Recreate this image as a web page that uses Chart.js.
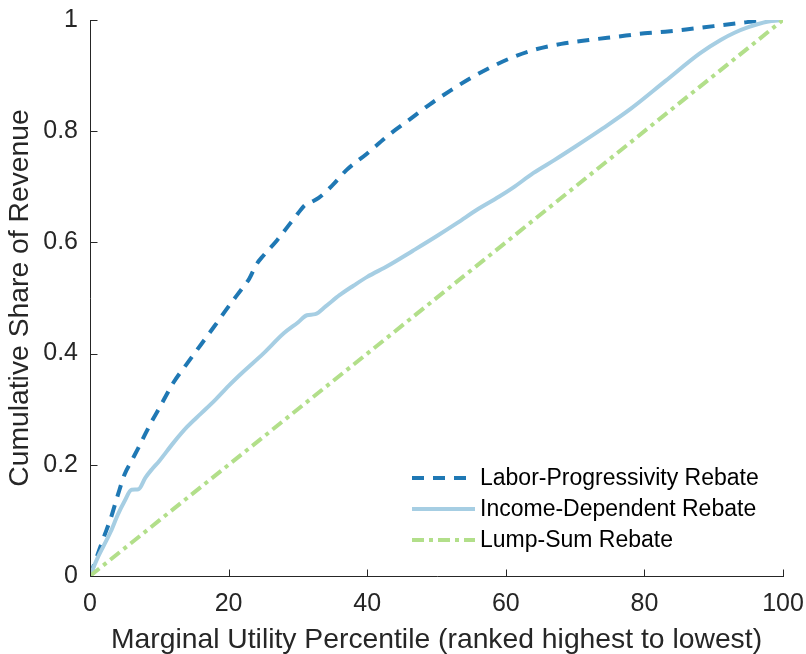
<!DOCTYPE html>
<html><head><meta charset="utf-8">
<script src="https://cdn.jsdelivr.net/npm/chart.js@4/dist/chart.umd.min.js"></script>
<style>html,body{margin:0;padding:0;background:#fff}#wrap{width:806px;height:654px}</style>
</head><body><div id="wrap"><canvas id="c" width="806" height="654"></canvas></div>
<script>
const seriesNames = ["Labor-Progressivity Rebate", "Income-Dependent Rebate", "Lump-Sum Rebate"];
const laborX = [0,1,2,3,4,5,6,7,8,9,10,12,14,16,18,20,22,23,24,25,27,29,30,31,32,33,35,37,40,43,46,49,52,55,58,61,64,68,72,76,80,83,86,90,94,97,100];
const laborY = [0,0.035,0.07,0.104,0.145,0.183,0.207,0.231,0.256,0.28,0.302,0.347,0.382,0.416,0.45,0.485,0.518,0.535,0.56,0.576,0.604,0.636,0.652,0.667,0.673,0.68,0.703,0.73,0.76,0.792,0.82,0.848,0.873,0.896,0.916,0.933,0.946,0.957,0.964,0.97,0.976,0.979,0.983,0.989,0.995,0.999,1];
const incomeX = [0,1,2,3,4,5,6,7,8,9,10,12,14,16,18,20,22,25,28,30,31.3,32.5,34,36,38,40,43,46.6,50,53,56,59,61,64,67,70,74,78,83,88,91,93,95,97.7,100];
const incomeY = [0,0.03,0.055,0.08,0.11,0.135,0.155,0.156,0.177,0.193,0.207,0.239,0.268,0.292,0.316,0.342,0.366,0.40,0.437,0.456,0.469,0.471,0.485,0.505,0.522,0.538,0.558,0.585,0.611,0.635,0.66,0.682,0.698,0.725,0.748,0.772,0.805,0.84,0.89,0.94,0.964,0.977,0.987,0.997,1];
const lumpX = [0,100];
const lumpY = [0,1];
const xTicks = [0,20,40,60,80,100];
const yTicks = [0,0.2,0.4,0.6,0.8,1];
const xTitle = "Marginal Utility Percentile (ranked highest to lowest)";
const yTitle = "Cumulative Share of Revenue";

const FONT = "'Liberation Sans', Arial, Helvetica, sans-serif";
const AXIS_COLOR = '#262626';
const pts = (xs, ys) => xs.map((x, i) => ({x: x, y: ys[i]}));

const axisPlugin = {
  id: 'axisLines',
  afterDatasetsDraw(chart) {
    const {ctx, chartArea: a, scales: {x, y}} = chart;
    ctx.save();
    ctx.strokeStyle = AXIS_COLOR; ctx.lineWidth = 1;
    const L = Math.round(a.left) + 0.5, B = Math.round(a.bottom) + 0.5;
    ctx.beginPath();
    ctx.moveTo(L, Math.round(a.top)); ctx.lineTo(L, B); ctx.lineTo(Math.round(a.right) + 1, B);
    x.ticks.forEach(t => { const px = Math.round(x.getPixelForValue(t.value)) + 0.5; ctx.moveTo(px, B); ctx.lineTo(px, B - 7); });
    y.ticks.forEach(t => { const py = Math.round(y.getPixelForValue(t.value)) + 0.5; ctx.moveTo(L, py); ctx.lineTo(L + 7, py); });
    ctx.stroke();
    ctx.restore();
  }
};

const legendPlugin = {
  id: 'inLegend',
  afterDraw(chart) {
    const {ctx, chartArea: a} = chart;
    ctx.save();
    chart.data.datasets.forEach((ds, i) => {
      const yy = a.bottom - 98 + i * 31;
      const x0 = a.right - 371, x1 = a.right - 308;
      ctx.beginPath();
      ctx.strokeStyle = ds.borderColor; ctx.lineWidth = ds.borderWidth;
      ctx.setLineDash(ds.borderDash || []);
      ctx.moveTo(x0, yy); ctx.lineTo(x1, yy); ctx.stroke();
      ctx.setLineDash([]);
      ctx.fillStyle = '#000';
      ctx.font = '23px ' + FONT;
      ctx.textBaseline = 'middle'; ctx.textAlign = 'left';
      ctx.fillText(ds.label, x1 + 5, yy + 1);
    });
    ctx.restore();
  }
};

new Chart(document.getElementById('c'), {
  type: 'line',
  data: {
    datasets: [
      {label: seriesNames[0], data: pts(laborX, laborY), borderColor: '#1f78b4', borderWidth: 4, borderDash: [12, 9], pointRadius: 0, cubicInterpolationMode: 'monotone', fill: false, order: 2},
      {label: seriesNames[1], data: pts(incomeX, incomeY), borderColor: '#a6cee3', borderWidth: 4, pointRadius: 0, cubicInterpolationMode: 'monotone', fill: false, order: 1},
      {label: seriesNames[2], data: pts(lumpX, lumpY), borderColor: '#b2df8a', borderWidth: 4, borderDash: [12, 5, 4, 5], pointRadius: 0, fill: false, order: 0}
    ]
  },
  options: {
    responsive: false, animation: false, devicePixelRatio: 1,
    layout: {padding: {top: 20, right: 23, left: 0, bottom: 0}},
    plugins: {legend: {display: false}, tooltip: {enabled: false}},
    scales: {
      x: {
        type: 'linear', min: 0, max: 100,
        afterBuildTicks: s => { s.ticks = xTicks.map(v => ({value: v})); },
        afterFit: s => { s.height = 78; s.paddingLeft = 0; s.paddingRight = 0; },
        grid: {display: false, drawTicks: false}, border: {display: false},
        ticks: {padding: 13, color: AXIS_COLOR, font: {family: FONT, size: 25}, maxRotation: 0, callback: v => String(v)},
        title: {display: true, text: xTitle, color: AXIS_COLOR, font: {family: FONT, size: 28.3, lineHeight: 1}, padding: {top: 0, bottom: 0}}
      },
      y: {
        type: 'linear', min: 0, max: 1,
        afterBuildTicks: s => { s.ticks = yTicks.map(v => ({value: v})); },
        afterFit: s => { s.width = 90; s.paddingTop = 0; s.paddingBottom = 0; },
        grid: {display: false, drawTicks: false}, border: {display: false},
        ticks: {padding: 12, color: AXIS_COLOR, font: {family: FONT, size: 25}, callback: v => String(+(+v).toFixed(1))},
        title: {display: true, text: yTitle, color: AXIS_COLOR, font: {family: FONT, size: 28.3, lineHeight: 1}, padding: {top: 6, bottom: 0}}
      }
    }
  },
  plugins: [axisPlugin, legendPlugin]
});
</script></body></html>
